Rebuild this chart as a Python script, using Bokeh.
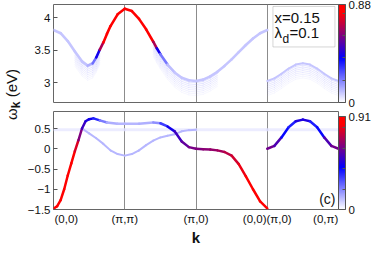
import numpy as np
from bokeh.plotting import figure
from bokeh.models import (ColumnDataSource, LinearColorMapper, ColorBar, FixedTicker,
                          Label, Div, Range1d, BoxAnnotation)
from bokeh.layouts import row, column
from bokeh.embed import file_html
from bokeh.resources import INLINE

FONT = "Liberation Sans"

# ---------------- data ----------------
# path: (0,0)->(pi,pi)->(pi,0)->(0,0) | (pi,0)->(0,pi), each leg one unit of k
k_ticks = [0, 1, 2, 3, 4]
k_tick_lab = ["(0,0)", "(\u03c0,\u03c0)", "(\u03c0,0)", "(0,0)(\u03c0,0)", "(0,\u03c0)"]
k_lines = [1, 2, 3]

# upper panel (omega 2.7 .. 4.2), colour scale 0..0.88
top_k = [0, 0.1, 0.2, 0.3, 0.4, 0.48, 0.55, 0.6, 0.65, 0.7, 0.75, 0.8, 0.9, 1.0,
         1.1, 1.2, 1.3, 1.4, 1.45, 1.5, 1.6, 1.7, 1.8, 1.9, 2.0,
         2.1, 2.2, 2.3, 2.4, 2.5, 2.6, 2.7, 2.8, 2.9, 3.0]
top_val = [3.81, 3.76, 3.64, 3.48, 3.33, 3.265, 3.30, 3.39, 3.51, 3.62, 3.75, 3.87, 4.05, 4.135,
           4.10, 3.98, 3.82, 3.63, 3.53, 3.44, 3.28, 3.16, 3.08, 3.04, 3.03,
           3.05, 3.10, 3.17, 3.26, 3.36, 3.47, 3.58, 3.68, 3.76, 3.81]
top_wt = [0.09, 0.09, 0.09, 0.09, 0.09, 0.1, 0.15, 0.3, 0.55, 0.8, 0.88, 0.88, 0.88, 0.88,
          0.88, 0.88, 0.88, 0.8, 0.55, 0.3, 0.12, 0.09, 0.09, 0.09, 0.09,
          0.09, 0.09, 0.09, 0.09, 0.09, 0.09, 0.09, 0.09, 0.09, 0.09]
top_smear = [0, 0, 0, 1, 1, 1, 1, 1, 1, 0, 0, 0, 0, 0,
             0, 0, 0, 1, 1, 1, 1, 1, 1, 1, 1,
             1, 1, 1, 0, 0, 0, 0, 0, 0, 0]

top2_k = [3.0, 3.1, 3.2, 3.3, 3.4, 3.5, 3.6, 3.7, 3.8, 3.9, 4.0]
top2_val = [3.03, 3.07, 3.14, 3.22, 3.28, 3.30, 3.28, 3.22, 3.14, 3.07, 3.03]
top2_wt = [0.09] * 11
top2_smear = [1] * 11

top_yticks = [3, 3.5, 4]
top_ylabels = ["3", "3.5", "4"]
top_cmax = 0.88

# lower panel (omega -1.5 .. 0.92), colour scale 0..0.91
bA_k = [0, 0.05, 0.1, 0.15, 0.2, 0.25, 0.3, 0.35, 0.4, 0.45, 0.5, 0.56, 0.65, 0.75, 0.9, 1.0,
        1.2, 1.4, 1.5, 1.6, 1.7, 1.8, 1.9, 2.0,
        2.1, 2.2, 2.3, 2.4, 2.5, 2.6, 2.7, 2.8, 2.9, 3.0]
bA_val = [-1.48, -1.42, -1.27, -1.0, -0.66, -0.36, -0.06, 0.21, 0.50, 0.68, 0.73, 0.75, 0.70, 0.65, 0.62, 0.62,
          0.62, 0.65, 0.63, 0.55, 0.43, 0.18, 0.04, 0.0,
          -0.01, -0.02, -0.04, -0.08, -0.17, -0.38, -0.68, -1.0, -1.3, -1.47]
bA_wt = [0.91, 0.91, 0.91, 0.91, 0.91, 0.9, 0.85, 0.7, 0.55, 0.47, 0.45, 0.42, 0.28, 0.15, 0.12, 0.12,
         0.12, 0.14, 0.22, 0.4, 0.48, 0.55, 0.6, 0.62,
         0.63, 0.65, 0.67, 0.7, 0.74, 0.78, 0.83, 0.87, 0.9, 0.91]

bB_k = [0.4, 0.5, 0.6, 0.7, 0.8, 0.9, 1.0, 1.1, 1.2, 1.3, 1.4, 1.5, 1.6, 1.7, 1.8, 1.9, 2.0]
bB_val = [0.50, 0.38, 0.26, 0.12, -0.04, -0.13, -0.17, -0.13, -0.04, 0.09, 0.20, 0.28, 0.32, 0.36, 0.43, 0.46, 0.47]
bB_wt = [0.12] * 17

bC_k = [3.0, 3.1, 3.2, 3.3, 3.4, 3.5, 3.6, 3.7, 3.8, 3.9, 4.0]
bC_val = [0.0, 0.07, 0.28, 0.53, 0.68, 0.72, 0.68, 0.53, 0.28, 0.07, 0.0]
bC_wt = [0.62, 0.58, 0.5, 0.3, 0.42, 0.5, 0.42, 0.3, 0.5, 0.58, 0.62]

flat_k = [0, 1, 2, 3, 4]
flat_val = [0.47, 0.47, 0.47, 0.47, 0.47]
flat_wt = [0.05] * 5

bot_yticks = [-1.5, -1, -0.5, 0, 0.5]
bot_ylabels = ["\u22121.5", "\u22121", "\u22120.5", "0", "0.5"]
bot_cmax = 0.91


# ---------------- helpers ----------------
def make_palette():
    anchors = [0.0, 0.45, 0.92, 1.0]
    cols = [(255, 255, 255), (0, 0, 255), (255, 0, 0), (255, 0, 0)]
    pal = []
    for i in range(256):
        t = i / 255
        for a in range(len(anchors) - 1):
            if anchors[a] <= t <= anchors[a + 1]:
                f = (t - anchors[a]) / (anchors[a + 1] - anchors[a])
                c = [int(round(cols[a][j] + (cols[a + 1][j] - cols[a][j]) * f)) for j in range(3)]
                break
        pal.append("#%02x%02x%02x" % tuple(c))
    return pal


PAL = make_palette()
FH = 98  # frame height of each panel


def segs(k, v, w, dy=0.0, mask=None):
    k = np.asarray(k, float)
    v = np.asarray(v, float) + dy
    w = np.asarray(w, float)
    wm = (w[:-1] + w[1:]) / 2
    sel = np.ones(len(k) - 1, bool)
    if mask is not None:
        m = np.asarray(mask)
        sel = (m[:-1] > 0) & (m[1:] > 0)
    return ColumnDataSource(dict(x0=k[:-1][sel], y0=v[:-1][sel], x1=k[1:][sel], y1=v[1:][sel], w=wm[sel]))


def base_fig(yr, yticks, ylabels, mb_top, mb_bottom):
    p = figure(frame_width=285, frame_height=FH, x_range=Range1d(0, 4), y_range=yr,
               output_backend="svg", toolbar_location=None,
               min_border_left=27, min_border_right=0, min_border_top=mb_top,
               min_border_bottom=mb_bottom, background_fill_color="white",
               border_fill_color="white")
    p.outline_line_color = "#666666"
    p.outline_line_width = 1
    xa = p.xaxis[0]
    xa.ticker = FixedTicker(ticks=k_ticks)
    p.xgrid.ticker = FixedTicker(ticks=k_lines)
    p.xgrid.grid_line_color = "#8c8c8c"
    p.xgrid.grid_line_width = 1
    p.ygrid.visible = False
    ax = p.yaxis[0]
    ax.ticker = FixedTicker(ticks=yticks)
    ax.major_label_overrides = {t: l for t, l in zip(yticks, ylabels)}
    ax.axis_line_color = None
    ax.major_tick_in = 4
    ax.major_tick_out = 0
    ax.minor_tick_line_color = None
    ax.major_tick_line_color = "#555555"
    ax.major_label_text_font = FONT
    ax.major_label_text_font_size = "11.5px"
    ax.major_label_text_color = "#111111"
    ax.major_label_standoff = 3
    return p


def add_cbar(p, mapper, cmax, height="auto"):
    cb = ColorBar(color_mapper=mapper, width=7, height=height, padding=0, margin=0,
                  location=(0, 0),
                  ticker=FixedTicker(ticks=[0, cmax], minor_ticks=[0.2, 0.4, 0.6, 0.8]),
                  major_label_overrides={0: "0", cmax: "%g" % cmax},
                  label_standoff=3, major_label_text_font=FONT,
                  major_label_text_font_size="11.5px", major_label_text_color="#111111",
                  major_tick_in=3, major_tick_out=0, major_tick_line_color="#555555",
                  minor_tick_in=3, minor_tick_out=0, minor_tick_line_color="#555555",
                  bar_line_color="#555555", border_line_color=None,
                  background_fill_alpha=0)
    p.add_layout(cb, "right")


def draw(p, mapper, k, v, w, lw=2.5, alpha=1.0, dy=0.0, mask=None):
    src = segs(k, v, w, dy=dy, mask=mask)
    p.segment("x0", "y0", "x1", "y1", source=src,
              line_color={"field": "w", "transform": mapper},
              line_width=lw, line_alpha=alpha, line_cap="round")


# ---------------- upper panel ----------------
mt = LinearColorMapper(palette=PAL, low=0, high=top_cmax)
pt = base_fig(Range1d(2.7, 4.2), top_yticks, top_ylabels, 4, 9)
pt.xaxis.visible = False

faint_w = [0.16] * len(top_k)
faint_w2 = [0.16] * len(top2_k)
for j in range(1, 9):
    a = 0.3 * (1 - j / 11)
    draw(pt, mt, top_k, top_val, faint_w, lw=1.0, alpha=a, dy=-0.028 * j, mask=top_smear)
    draw(pt, mt, top2_k, top2_val, faint_w2, lw=1.0, alpha=a, dy=-0.028 * j, mask=top2_smear)
draw(pt, mt, top2_k, top2_val, top2_wt, lw=2)
draw(pt, mt, top_k, top_val, top_wt, lw=2.6)
add_cbar(pt, mt, top_cmax)

pt.add_layout(BoxAnnotation(left=3.08, right=3.95, bottom=3.55, top=4.17,
                            fill_color="white", fill_alpha=1, line_color="#777777", line_width=1))
pt.add_layout(Label(x=3.1, y=4.13, text="x=0.15", text_font=FONT, text_font_size="15px",
                    text_baseline="top", text_color="#111111"))
pt.add_layout(Label(x=3.1, y=3.90, text="\u03bb", text_font=FONT, text_font_size="15px",
                    text_baseline="top", text_color="#111111"))
pt.add_layout(Label(x=3.1, y=3.90, x_offset=8, y_offset=-8, text="d", text_font=FONT,
                    text_font_size="12px", text_baseline="top", text_color="#111111"))
pt.add_layout(Label(x=3.1, y=3.90, x_offset=15, text="=0.1", text_font=FONT,
                    text_font_size="15px", text_baseline="top", text_color="#111111"))

# ---------------- lower panel ----------------
mb = LinearColorMapper(palette=PAL, low=0, high=bot_cmax)
pb = base_fig(Range1d(-1.5, 0.92), bot_yticks, bot_ylabels, 0, 0)
xa = pb.xaxis[0]
pad = "\u2007" * 4
overrides = {t: l for t, l in zip(k_ticks, k_tick_lab)}
overrides[k_ticks[0]] = pad + k_tick_lab[0]
overrides[k_ticks[-1]] = k_tick_lab[-1] + pad
xa.major_label_overrides = overrides
xa.axis_line_color = None
xa.major_tick_in = 0
xa.major_tick_out = 0
xa.minor_tick_line_color = None
xa.major_label_standoff = 3
xa.major_label_text_font = FONT
xa.major_label_text_font_size = "11.5px"
xa.major_label_text_color = "#111111"
xa.axis_label = "k"
xa.axis_label_standoff = 1
xa.axis_label_text_font = FONT
xa.axis_label_text_font_size = "15px"
xa.axis_label_text_font_style = "bold"
xa.axis_label_text_color = "#111111"

draw(pb, mb, flat_k, flat_val, flat_wt, lw=3, alpha=0.6)
draw(pb, mb, bB_k, bB_val, bB_wt, lw=2)
draw(pb, mb, bC_k, bC_val, bC_wt, lw=2.5)
draw(pb, mb, bA_k, bA_val, bA_wt, lw=2.5)
add_cbar(pb, mb, bot_cmax, height=FH - 5)

pb.add_layout(Label(x=4, y=-1.5, x_offset=-3, y_offset=3, text="(c)", text_align="right",
                    text_baseline="bottom", text_font=FONT, text_font_size="14px",
                    text_color="#111111"))

ylab = Div(text=('<div style="margin-top:64px; writing-mode:vertical-rl; transform:rotate(180deg);'
                 ' white-space:nowrap; font-family:\'Liberation Sans\'; font-size:15px; color:#111;'
                 ' line-height:14px;">\u03c9<sub style="font-weight:bold;font-size:12px;">k</sub> (eV)</div>'),
           width=14, height=230)

layout = row(ylab, column(pt, pb))
open("out.html", "w").write(file_html(layout, INLINE))
